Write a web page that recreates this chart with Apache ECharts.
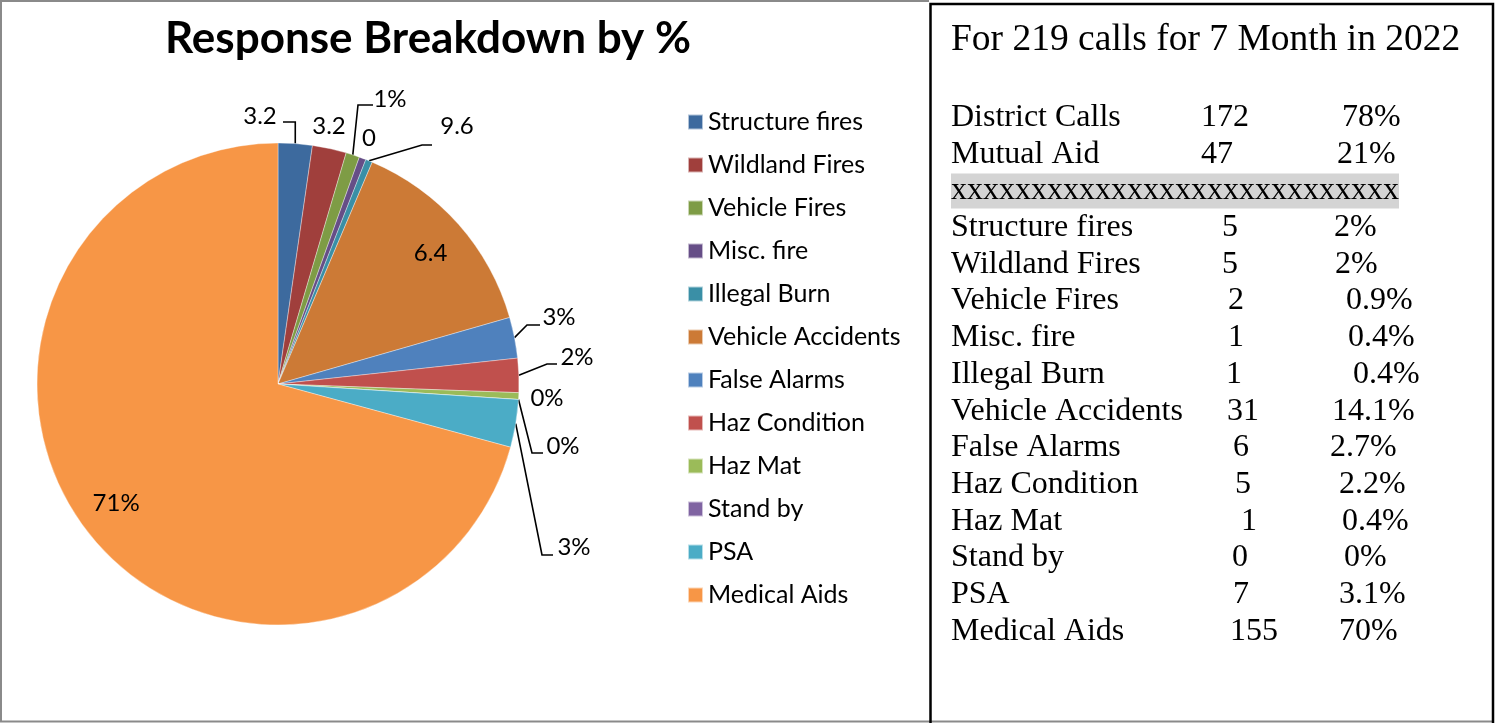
<!DOCTYPE html>
<html>
<head>
<meta charset="utf-8">
<title>Response Breakdown by %</title>
<script src="https://cdn.jsdelivr.net/npm/echarts@6/dist/echarts.min.js"></script>
<style>
  html, body { margin: 0; padding: 0; background: #fff; }
  #chart { width: 1496px; height: 723px; }
</style>
</head>
<body>
<div id="chart"></div>
<script>
// ---- data ----
const chartTitle = 'Response Breakdown by %';
const categories = ['Structure fires', 'Wildland Fires', 'Vehicle Fires', 'Misc. fire', 'Illegal Burn',
  'Vehicle Accidents', 'False Alarms', 'Haz Condition', 'Haz Mat', 'Stand by', 'PSA', 'Medical Aids'];
const callCounts = [5, 5, 2, 1, 1, 31, 6, 5, 1, 0, 7, 155];
// labels as they were typed on the original pie
const pieLabels = ['3.2', '3.2', '1%', '0', '9.6', '6.4', '3%', '2%', '0%', '0%', '3%', '71%'];
const tablePercents = ['2%', '2%', '0.9%', '0.4%', '0.4%', '14.1%', '2.7%', '2.2%', '0.4%', '0%', '3.1%', '70%'];
const headerText = 'For 219 calls for 7 Month in 2022';
const summaryNames = ['District Calls', 'Mutual Aid'];
const summaryCounts = [172, 47];
const summaryPercents = ['78%', '21%'];
const separatorText = 'xxxxxxxxxxxxxxxxxxxxxxxxxxxx';

// ---- styles / layout ----
const colors = ['#3d6a9e', '#a03f3c', '#7e9c45', '#664e87', '#3a8fa6', '#cc7a36',
  '#4f81bd', '#c0504d', '#9bbb59', '#8064a2', '#4bacc6', '#f79646'];
const pieCenter = [278, 384];
const pieRadius = 241;
// which labels sit inside the slice
const insideLabel = [false, false, false, false, false, true, false, false, false, false, false, true];
// label centres for the outside labels
const labelSpots = [[260, 116], [329, 126], [390, 99], [369, 138], [457, 126], null,
  [559, 317], [577, 357], [547, 398], [563, 446], [574, 547], null];
// leader line bends [elbow, end], null = no line
const leaderBends = [[[null, 122], [283, 122]], null, [[358, 105], [373, 105]], null, [[422, 145], [432, 145]], null,
  [[527, 325], [540, 325]], [[547, 364], [557, 364]], null, [[532, 453], [543, 453]], [[542, 555], [553, 555]], null];

const sansFont = 'Lato, "Open Sans", sans-serif';
const serifFont = '"Liberation Serif", "Times New Roman", serif';

// right-hand table
const rowTop = 117.5;
const rowStep = 36.7;
const nameX = 951;
const countLeft = [1201, 1201, 1222, 1222, 1228, 1228, 1226, 1227, 1233, 1235, 1241, 1232, 1233, 1230];
const pctLeft = [1342, 1337, 1334, 1335, 1346, 1348, 1353, 1332, 1330, 1339, 1342, 1344, 1339, 1339];

function tableText(text, x, y) {
  return {
    type: 'text',
    x: x,
    y: y,
    style: { text: text, font: '32px ' + serifFont, fill: '#000', verticalAlign: 'middle' },
    silent: true
  };
}

function buildTable() {
  const items = [];
  items.push({
    type: 'text', x: 951, y: 40,
    style: { text: headerText, font: '37.5px ' + serifFont, fill: '#000', verticalAlign: 'middle' }
  });
  const names = summaryNames.concat(categories);
  const counts = summaryCounts.concat(callCounts);
  const pcts = summaryPercents.concat(tablePercents);
  names.forEach((name, i) => {
    const row = i < 2 ? i : i + 1; // row 2 is the xxx line
    const y = rowTop + row * rowStep;
    items.push(tableText(name, nameX, y));
    items.push(tableText(String(counts[i]), countLeft[i], y));
    items.push(tableText(pcts[i], pctLeft[i], y));
  });
  items.push({
    type: 'text', x: nameX, y: rowTop + 2 * rowStep,
    style: {
      text: separatorText, font: '32px ' + serifFont, fill: '#000', verticalAlign: 'middle',
      backgroundColor: '#d4d4d4', padding: [2, 0, 1, 0]
    }
  });
  return items;
}

const chart = echarts.init(document.getElementById('chart'));

chart.setOption({
  backgroundColor: '#fff',
  animation: false,
  color: colors,
  legend: {
    orient: 'vertical',
    left: 682,
    top: 104,
    icon: 'rect',
    itemWidth: 15,
    itemHeight: 15,
    itemGap: 17,
    data: categories,
    textStyle: { fontFamily: sansFont, fontSize: 25, lineHeight: 26, color: '#000' }
  },
  graphic: [
    // chart frame (grey)
    {
      type: 'polyline', silent: true,
      shape: { points: [[929, 1], [1, 1], [1, 721.5], [1494, 721.5]] },
      style: { stroke: '#8a8a8a', lineWidth: 2, fill: null }
    },
    // table frame (black)
    {
      type: 'polyline', silent: true,
      shape: { points: [[930.5, 723], [930.5, 4], [1493, 4], [1493, 723]] },
      style: { stroke: '#000', lineWidth: 2.5, fill: null }
    },
    {
      type: 'text', x: 428, y: 39, silent: true,
      style: {
        text: chartTitle, font: 'bold 44px ' + sansFont, fill: '#000',
        align: 'center', verticalAlign: 'middle'
      }
    },
    { type: 'group', silent: true, children: buildTable() }
  ],
  series: [
    {
      type: 'pie',
      center: pieCenter,
      radius: pieRadius,
      startAngle: 90,
      clockwise: true,
      avoidLabelOverlap: false,
      minShowLabelAngle: 0,
      itemStyle: { borderColor: 'rgba(255,255,255,0.6)', borderWidth: 0.6 },
      emphasis: { disabled: true },
      label: {
        show: true,
        fontFamily: sansFont,
        fontSize: 24,
        color: '#000',
        formatter: p => pieLabels[p.dataIndex]
      },
      labelLine: {
        show: true,
        length: 12,
        length2: 10,
        lineStyle: { color: '#000', width: 1.6 }
      },
      labelLayout: function (params) {
        const i = params.dataIndex;
        const rect = params.labelRect;
        if (insideLabel[i]) {
          const cx = rect.x + rect.width / 2;
          const cy = rect.y + rect.height / 2;
          return {
            x: pieCenter[0] + (cx - pieCenter[0]) * 1.65,
            y: pieCenter[1] + (cy - pieCenter[1]) * 1.65 + (i === 5 ? 4 : -4),
            align: 'center',
            verticalAlign: 'middle'
          };
        }
        const spot = labelSpots[i];
        const out = { x: spot[0], y: spot[1], align: 'center', verticalAlign: 'middle' };
        const bend = leaderBends[i];
        if (bend && params.labelLinePoints) {
          const start = params.labelLinePoints[0];
          const elbow = [bend[0][0] == null ? start[0] : bend[0][0], bend[0][1]];
          out.labelLinePoints = [start, elbow, bend[1]];
        }
        return out;
      },
      data: categories.map((name, i) => ({
        name: name,
        value: callCounts[i],
        label: insideLabel[i] ? { position: 'inside' } : { position: 'outside' },
        labelLine: { show: !!leaderBends[i] }
      }))
    }
  ]
});
</script>
</body>
</html>
